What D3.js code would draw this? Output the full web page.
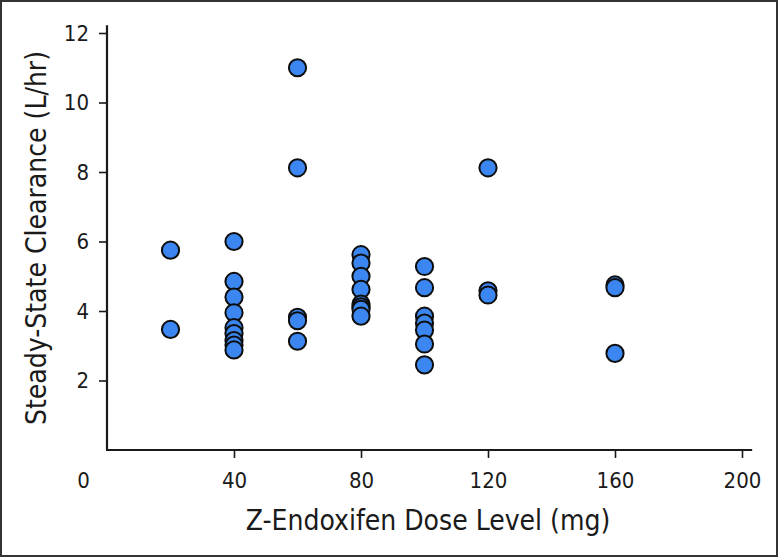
<!DOCTYPE html>
<html>
<head>
<meta charset="utf-8">
<script src="https://cdn.jsdelivr.net/npm/d3@7"></script>
<style>
  html, body { margin: 0; padding: 0; background: #fff; }
  svg { display: block; }
  text { font-family: "Liberation Sans Narrow", "DejaVu Sans Condensed", "Arial Narrow", sans-serif; fill: #1a1a1a; }
</style>
</head>
<body>
<svg id="chart" width="783" height="559"></svg>
<script>
// ---- Data ----
const doseLevels = [20, 40, 60, 80, 100, 120, 160];
const clearanceByDose = [
  [5.75, 3.47],
  [6.0, 4.85, 4.4, 3.95, 3.52, 3.35, 3.15, 3.02, 2.88],
  [11.0, 8.12, 3.82, 3.72, 3.13],
  [5.62, 5.38, 5.0, 4.62, 4.2, 4.12, 4.05, 3.85],
  [5.28, 4.67, 3.85, 3.65, 3.45, 3.05, 2.45],
  [8.12, 4.58, 4.46],
  [4.75, 4.67, 2.78]
];
const xTicks = [0, 40, 80, 120, 160, 200];
const yTicks = [2, 4, 6, 8, 10, 12];
const xTitle = "Z-Endoxifen Dose Level (mg)";
const yTitle = "Steady-State Clearance (L/hr)";

// ---- Layout ----
const svg = d3.select("#chart");
const x = d3.scaleLinear().domain([0, 200]).range([107, 742]);
const y = d3.scaleLinear().domain([0, 12]).range([450, 33]);

// outer frame
svg.append("rect")
  .attr("x", 1).attr("y", 1).attr("width", 776).attr("height", 555)
  .attr("fill", "none").attr("stroke", "#333").attr("stroke-width", 2);

// axis lines
svg.append("line")
  .attr("x1", x(0)).attr("x2", x(0)).attr("y1", y(0)).attr("y2", y(12.22))
  .attr("stroke", "#1a1a1a").attr("stroke-width", 2.2);
svg.append("line")
  .attr("x1", x(0) - 1).attr("x2", x(203.2)).attr("y1", y(0)).attr("y2", y(0))
  .attr("stroke", "#1a1a1a").attr("stroke-width", 2.2);

// y axis
const yAxis = svg.append("g")
  .attr("transform", `translate(${x(0)},0)`)
  .call(d3.axisLeft(y).tickValues(yTicks).tickSize(8).tickPadding(10).tickFormat(d3.format("d")));
yAxis.select(".domain").remove();
yAxis.selectAll(".tick line").attr("stroke", "#1a1a1a").attr("stroke-width", 1.6);
yAxis.selectAll(".tick text").attr("font-size", 22).attr("fill", "#1a1a1a");

// x axis
const xAxis = svg.append("g")
  .attr("transform", `translate(0,${y(0)})`)
  .call(d3.axisBottom(x).tickValues(xTicks).tickSize(8).tickPadding(14).tickFormat(d3.format("d")));
xAxis.select(".domain").remove();
xAxis.selectAll(".tick line").attr("stroke", "#1a1a1a").attr("stroke-width", 1.6);
xAxis.selectAll(".tick text").attr("font-size", 22).attr("fill", "#1a1a1a");
xAxis.selectAll(".tick").filter(d => d === 0).each(function() {
  d3.select(this).select("line").remove();
  d3.select(this).select("text").attr("x", -24);
});
d3.selectAll("g").attr("font-family", null).attr("font-size", null);

// titles
svg.append("text")
  .attr("x", 428).attr("y", 530)
  .attr("text-anchor", "middle").attr("font-size", 28)
  .text(xTitle);
svg.append("text")
  .attr("transform", "translate(46,238) rotate(-90)")
  .attr("text-anchor", "middle").attr("font-size", 28)
  .text(yTitle);

// points
const points = [];
doseLevels.forEach((d, i) => {
  clearanceByDose[i].slice().sort((a, b) => b - a).forEach(v => points.push({ dose: d, value: v }));
});
svg.append("g").selectAll("circle")
  .data(points)
  .join("circle")
  .attr("cx", d => x(d.dose))
  .attr("cy", d => y(d.value))
  .attr("r", 8.6)
  .attr("fill", "#3b86f0")
  .attr("stroke", "#0d0d0d")
  .attr("stroke-width", 2);
</script>
</body>
</html>
